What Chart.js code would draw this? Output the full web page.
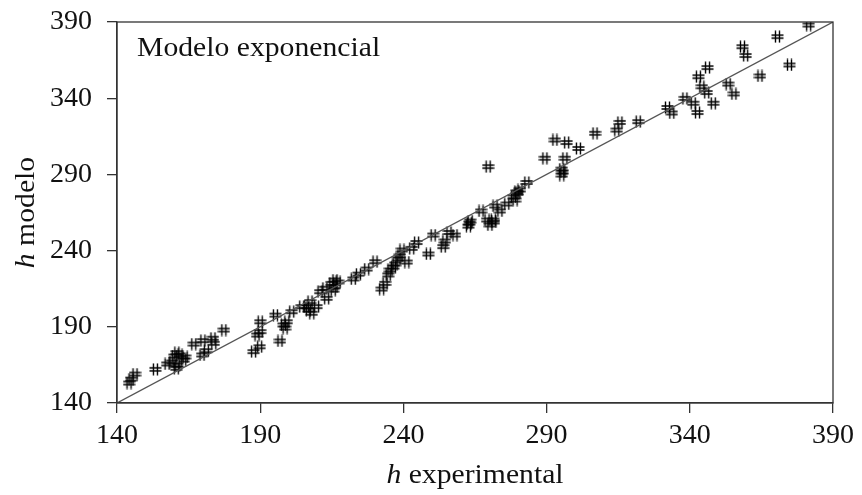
<!DOCTYPE html>
<html>
<head>
<meta charset="utf-8">
<script src="https://cdn.jsdelivr.net/npm/chart.js@4.4.1/dist/chart.umd.min.js"></script>
<style>
html, body { margin: 0; padding: 0; background: #fff; }
</style>
</head>
<body>
<canvas id="c" width="862" height="495"></canvas>
<script>
const hExperimental = [
  144.2, 144.9, 146.3, 153.4, 157.5, 160.7, 161.2, 160.9, 160.0, 163.3,
  163.8, 166.8, 170.0, 173.5, 173.8, 169.7, 171.2, 177.3, 187.7, 189.8,
  188.9, 190.0, 190.0, 195.3, 196.9, 198.1, 199.3, 201.0, 198.7, 206.2,
  204.5, 207.4, 206.8, 208.0, 209.7, 210.9, 212.6, 213.2, 215.0, 216.1,
  215.5, 216.1, 222.5, 224.3, 227.2, 230.1, 232.4, 233.6, 234.7, 236.5,
  237.1, 238.8, 239.5, 241.2, 242.9, 244.6, 248.7, 250.4, 253.9, 254.5,
  255.9, 258.0, 262.7, 263.3, 267.1, 269.2, 270.2, 271.4, 272.0, 273.7,
  276.1, 278.4, 279.6, 279.0, 280.0, 283.1, 269.6, 289.4, 292.9, 297.0,
  296.4, 295.3, 295.3, 295.7, 301.1, 306.9, 314.5, 315.6, 322.0, 332.2,
  333.7, 338.3, 341.2, 342.7, 343.0, 346.2, 344.2, 345.9, 348.2, 353.4,
  355.4, 358.4, 359.5, 364.5, 370.6, 374.8, 381.5, 162.0, 159.2, 217.2,
  235.3, 238.1, 263.0, 271.6, 280.7
];
const hModelo = [
  153.1, 155.7, 159.0, 162.1, 165.6, 162.8, 164.9, 173.0, 170.8, 168.2,
  170.2, 178.7, 180.9, 182.5, 179.2, 171.5, 174.3, 187.9, 173.7, 176.9,
  184.6, 193.3, 186.8, 197.7, 180.7, 191.2, 193.3, 199.9, 189.2, 203.2,
  203.2, 206.5, 201.0, 198.9, 203.2, 213.0, 215.3, 208.7, 218.5, 220.7,
  214.1, 216.3, 221.4, 224.6, 227.9, 232.7, 214.8, 218.5, 224.0, 229.2,
  231.2, 236.5, 240.4, 232.5, 241.5, 245.3, 237.8, 250.2, 242.6, 246.3,
  251.9, 250.2, 256.1, 259.4, 266.0, 260.1, 256.8, 260.1, 269.3, 266.0,
  270.6, 275.2, 278.6, 273.2, 277.8, 284.7, 295.1, 300.6, 312.6, 310.9,
  300.6, 293.5, 289.6, 291.6, 307.0, 317.0, 319.1, 324.1, 324.6, 333.9,
  330.3, 339.9, 336.7, 330.6, 354.1, 360.1, 347.5, 343.7, 336.7, 349.3,
  342.8, 373.8, 368.0, 354.6, 380.4, 361.8, 388.0, 171.5, 166.9, 219.4,
  227.3, 234.5, 258.1, 258.8, 279.8
];
const tickValues = [140, 190, 240, 290, 340, 390];
const identityLine = [140, 390];

const serif = '"Liberation Serif", "Times New Roman", serif';
const axisColor = '#333';

// "#"-like marker used in the original plot
const marker = document.createElement('canvas');
marker.width = 13;
marker.height = 13;
(function () {
  const m = marker.getContext('2d');
  m.strokeStyle = '#000';
  m.lineWidth = 1.4;
  m.beginPath();
  m.moveTo(4.5, 0.5); m.lineTo(4.5, 12.5);
  m.moveTo(8.5, 0.5); m.lineTo(8.5, 12.5);
  m.moveTo(0.5, 5); m.lineTo(12.5, 5);
  m.moveTo(0.5, 8); m.lineTo(12.5, 8);
  m.stroke();
})();

const points = hExperimental.map((x, i) => ({ x: x, y: hModelo[i] }));

// frame, in-plot title and axis titles with an italic "h"
const decorations = {
  id: 'decorations',
  afterDraw(chart) {
    const ctx = chart.ctx;
    const a = chart.chartArea;
    ctx.save();
    ctx.strokeStyle = axisColor;
    ctx.lineWidth = 1.3;
    ctx.strokeRect(a.left, a.top, a.right - a.left, a.bottom - a.top);

    ctx.fillStyle = '#111';
    ctx.textBaseline = 'middle';
    ctx.textAlign = 'left';
    ctx.save();
    ctx.translate(a.left + 20, a.top + 27);
    ctx.scale(1.06, 1);
    ctx.font = '28px ' + serif;
    ctx.fillText('Modelo exponencial', 0, 0);
    ctx.restore();

    const label = (cx, cy, rot, rest) => {
      ctx.save();
      ctx.translate(cx, cy);
      ctx.rotate(rot);
      ctx.scale(1.06, 1);
      ctx.font = 'italic 28px ' + serif;
      const w1 = ctx.measureText('h').width;
      ctx.font = '28px ' + serif;
      const w2 = ctx.measureText(rest).width;
      const x0 = -(w1 + w2) / 2;
      ctx.font = 'italic 28px ' + serif;
      ctx.fillText('h', x0, 0);
      ctx.font = '28px ' + serif;
      ctx.fillText(rest, x0 + w1, 0);
      ctx.restore();
    };
    label((a.left + a.right) / 2, 476, 0, ' experimental');
    label(27, (a.top + a.bottom) / 2, -Math.PI / 2, ' modelo');
    ctx.restore();
  }
};

const axisOpts = (fitFn) => ({
  type: 'linear',
  min: 140,
  max: 390,
  afterBuildTicks: (scale) => { scale.ticks = tickValues.map(v => ({ value: v })); },
  afterFit: fitFn,
  grid: { drawOnChartArea: false, drawTicks: true, tickLength: 10, color: axisColor, lineWidth: 1.3 },
  border: { display: true, color: axisColor, width: 1.3 },
  ticks: { color: '#111', font: { family: serif, size: 28 } }
});

const xAxis = axisOpts((s) => { s.height = 92; s.paddingLeft = 0; s.paddingRight = 0; });
xAxis.ticks.padding = 6;
const yAxis = axisOpts((s) => { s.width = 117; s.paddingTop = 0; s.paddingBottom = 0; });
yAxis.ticks.padding = 15;

new Chart(document.getElementById('c').getContext('2d'), {
  type: 'scatter',
  data: {
    datasets: [
      {
        type: 'line',
        data: identityLine.map(v => ({ x: v, y: v })),
        borderColor: '#555',
        borderWidth: 1.3,
        pointRadius: 0,
        fill: false
      },
      {
        data: points,
        pointStyle: marker,
        pointRadius: 6
      }
    ]
  },
  options: {
    responsive: false,
    devicePixelRatio: 1,
    animation: false,
    layout: { padding: { top: 22, right: 29, left: 0, bottom: 0 } },
    plugins: { legend: { display: false }, tooltip: { enabled: false } },
    scales: { x: xAxis, y: yAxis }
  },
  plugins: [decorations]
});
</script>
</body>
</html>
